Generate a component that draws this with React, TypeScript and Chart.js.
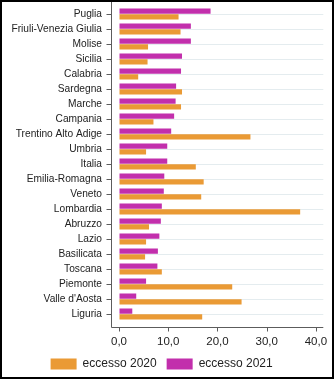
import React, { useEffect, useRef } from "react";
import { Chart, registerables } from "chart.js";

Chart.register(...registerables);

const categories = [
  "Puglia",
  "Friuli-Venezia Giulia",
  "Molise",
  "Sicilia",
  "Calabria",
  "Sardegna",
  "Marche",
  "Campania",
  "Trentino Alto Adige",
  "Umbria",
  "Italia",
  "Emilia-Romagna",
  "Veneto",
  "Lombardia",
  "Abruzzo",
  "Lazio",
  "Basilicata",
  "Toscana",
  "Piemonte",
  "Valle d'Aosta",
  "Liguria",
];

const eccesso2021 = [18.6, 14.6, 14.6, 12.8, 12.6, 11.6, 11.5, 11.2, 10.6, 9.8, 9.8, 9.2, 9.1, 8.7, 8.5, 8.2, 7.9, 7.8, 5.5, 3.5, 2.7];
const eccesso2020 = [12.1, 12.5, 5.9, 5.8, 3.9, 12.8, 12.6, 7.0, 26.7, 5.5, 15.6, 17.2, 16.7, 36.8, 6.1, 5.5, 5.3, 8.7, 23.0, 24.9, 16.9];

const xTickValues = [0, 10, 20, 30, 40];
const xTickLabels = ["0,0", "10,0", "20,0", "30,0", "40,0"];

const FONT = "'Liberation Sans', Arial, Helvetica, sans-serif";
const ORANGE = "#EA9A35";
const MAGENTA = "#C22FAC";
const AXIS = "#5c5c5c";

const axesPlugin = {
  id: "stataAxes",
  afterDraw(chart: any) {
    const { ctx, chartArea, scales } = chart;
    const xs = scales.x;
    const ys = scales.y;
    const axX = Math.round(chartArea.left - 8) + 0.5;
    const axY = Math.round(chartArea.bottom + 5) + 0.5;
    ctx.save();
    ctx.strokeStyle = AXIS;
    ctx.lineWidth = 1;
    ctx.beginPath();
    ctx.moveTo(axX, chartArea.top - 5);
    ctx.lineTo(axX, axY);
    ctx.moveTo(axX, axY);
    ctx.lineTo(chartArea.right, axY);
    ys.ticks.forEach((_: any, i: number) => {
      const p = Math.round(ys.getPixelForTick(i)) + 0.5;
      ctx.moveTo(axX - 5, p);
      ctx.lineTo(axX, p);
    });
    xs.ticks.forEach((t: any) => {
      const p = Math.round(xs.getPixelForValue(t.value)) + 0.5;
      ctx.moveTo(p, axY);
      ctx.lineTo(p, axY + 4);
    });
    ctx.stroke();
    ctx.restore();
  },
};

export default function App() {
  const canvasRef = useRef<HTMLCanvasElement | null>(null);

  useEffect(() => {
    const canvas = canvasRef.current;
    if (!canvas) return;
    const chart = new Chart(canvas, {
      type: "bar",
      data: {
        labels: categories,
        datasets: [
          {
            label: "eccesso 2021",
            data: eccesso2021,
            backgroundColor: MAGENTA,
            borderWidth: 0,
            categoryPercentage: 0.74,
            barPercentage: 0.95,
          },
          {
            label: "eccesso 2020",
            data: eccesso2020,
            backgroundColor: ORANGE,
            borderWidth: 0,
            categoryPercentage: 0.74,
            barPercentage: 0.95,
          },
        ],
      },
      options: {
        indexAxis: "y",
        responsive: false,
        animation: false,
        layout: { padding: { left: 0, right: 11.7, top: 6.5, bottom: 0 } },
        plugins: {
          tooltip: { enabled: false },
          legend: {
            position: "bottom",
            reverse: true,
            labels: {
              boxWidth: 26,
              boxHeight: 11,
              padding: 10,
              color: "#222",
              font: { family: FONT, size: 12 },
            },
          },
        },
        scales: {
          x: {
            type: "linear",
            min: 0,
            max: 41.5,
            afterBuildTicks: (scale: any) => {
              scale.ticks = xTickValues.map((v) => ({ value: v }));
            },
            afterFit: (scale: any) => {
              scale.height = 26.5;
            },
            grid: {
              display: true,
              drawOnChartArea: false,
              drawTicks: true,
              tickLength: 13,
              tickColor: "rgba(0,0,0,0)",
            },
            border: { display: false },
            ticks: {
              padding: 0,
              color: "#222",
              font: { family: FONT, size: 11.5 },
              maxRotation: 0,
              callback: (_v: any, i: number) => xTickLabels[i],
            },
          },
          y: {
            type: "category",
            afterFit: (scale: any) => {
              scale.width = 119;
            },
            grid: {
              display: true,
              offset: false,
              drawTicks: true,
              tickLength: 17,
              tickColor: "rgba(0,0,0,0)",
              color: "#e4ecef",
              lineWidth: 1,
            },
            border: { display: false },
            ticks: {
              padding: 0,
              color: "#222",
              font: { family: FONT, size: 10.2 },
              autoSkip: false,
            },
          },
        },
      },
      plugins: [axesPlugin],
    } as any);
    return () => chart.destroy();
  }, []);

  return (
    <div style={{ position: "fixed", left: 0, top: 0, width: 335, height: 380, background: "#fff" }}>
      <canvas ref={canvasRef} width={335} height={380} style={{ width: 335, height: 380, display: "block" }} />
      <div
        style={{
          position: "absolute",
          left: 0,
          top: 0,
          width: 334,
          height: 379,
          border: "2px solid #000",
          boxSizing: "border-box",
          pointerEvents: "none",
        }}
      />
    </div>
  );
}
